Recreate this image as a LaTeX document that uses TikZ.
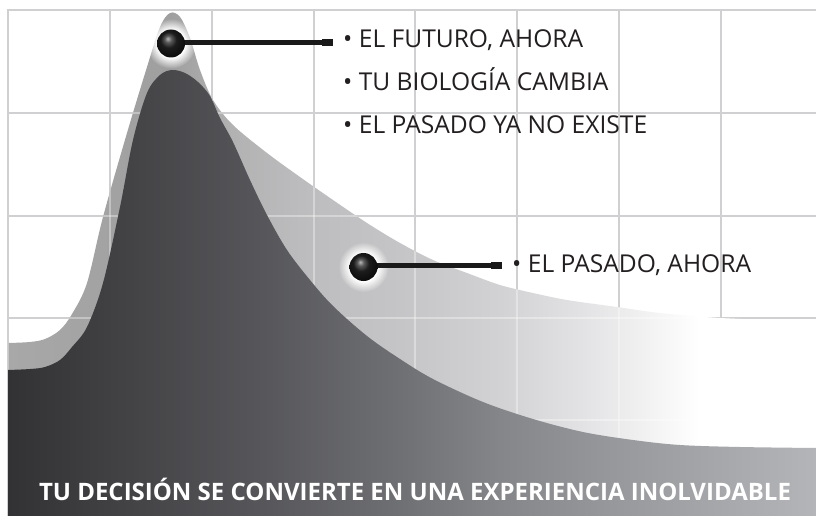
\documentclass[tikz,border=0pt]{standalone}
\usepackage{fontspec}
\setmainfont{Open Sans}
\usetikzlibrary{fadings}
\definecolor{gridc}{HTML}{D0D0D2}
\definecolor{txt}{HTML}{231F20}
\definecolor{stemc}{HTML}{1A1A1A}
% dark front shape colours
\definecolor{dA}{HTML}{323234}
\definecolor{dB}{HTML}{444447}
\definecolor{dC}{HTML}{58585C}
\definecolor{dD}{HTML}{6F7074}
\definecolor{dE}{HTML}{85868A}
\definecolor{dF}{HTML}{95969A}
\definecolor{dG}{HTML}{B4B5B9}
% light back shape colours
\definecolor{lA}{HTML}{A8A8A8}
\definecolor{lB}{HTML}{9F9F9F}
\definecolor{lC}{HTML}{B2B2B3}
\definecolor{lD}{HTML}{BCBCBE}
\definecolor{lE}{HTML}{C5C5C7}
\definecolor{lF}{HTML}{D2D2D4}
\definecolor{lG}{HTML}{E2E2E4}
\definecolor{lH}{HTML}{F0F0F1}
% ball colours
\definecolor{bA}{HTML}{B8B8B8}
\definecolor{bB}{HTML}{5A5A5A}
\definecolor{bC}{HTML}{1C1C1C}
\definecolor{bD}{HTML}{0A0A0A}
\pgfdeclarehorizontalshading{darksh}{100bp}{color(0bp)=(dA); color(25bp)=(dA); color(32.9bp)=(dB); color(41.2bp)=(dC); color(49.3bp)=(dD); color(55.5bp)=(dE); color(61.6bp)=(dF); color(75bp)=(dG); color(100bp)=(dG)}
\pgfdeclarehorizontalshading{lightsh}{100bp}{color(0bp)=(lA); color(25bp)=(lA); color(35bp)=(lB); color(38.9bp)=(lC); color(43.1bp)=(lD); color(49.3bp)=(lE); color(55.5bp)=(lF); color(60.4bp)=(lG); color(64.1bp)=(lH); color(67.8bp)=(white); color(100bp)=(white)}
\pgfdeclareradialshading{glowsh}{\pgfpointorigin}{color(0bp)=(white); color(14bp)=(white); color(25bp)=(black); color(50bp)=(black)}
\pgfdeclarefading{glowfade}{\pgfuseshading{glowsh}}
\pgfdeclareradialshading{glossball}{\pgfpoint{-6bp}{9bp}}{color(0bp)=(bA); color(6bp)=(bB); color(14bp)=(bC); color(30bp)=(bD); color(50bp)=(bD)}
\def\lightpath{plot[smooth,tension=.55] coordinates {(8,343) (30,342) (45,339) (60,330) (72,314) (87,283) (103,217) (127,133) (147,67) (160,27) (170,13) (180,17) (190,38) (200,70) (213,100) (233,125) (267,153) (300,177) (333,200) (367,223) (400,243) (433,260) (467,273) (500,285) (533,293) (567,300) (617,307) (660,313) (720,318) (816,322)} -- (816,516) -- (8,516) -- cycle}
\def\darkpath{plot[smooth,tension=.55] coordinates {(8,370) (30,369) (45,367) (60,360) (72,347) (87,327) (103,283) (120,207) (133,140) (147,93) (160,75) (172,70) (185,73) (198,82) (210,96) (220,118) (233,142) (250,180) (267,215) (287,250) (310,280) (333,306) (367,336) (400,359) (433,379) (483,402) (533,419) (583,432) (633,440) (680,445) (740,447) (816,448)} -- (816,516) -- (8,516) -- cycle}
\tikzset{
  gridline/.style={draw=gridc, line width=2pt},
  gridover/.style={draw=white, opacity=.35, line width=2pt},
  ballst/.style={circle, minimum size=28pt, inner sep=0pt, shading=glossball},
  stemst/.style={draw=stemc, line width=4.5pt},
  stemend/.style={draw=stemc, line width=7.5pt},
  glow/.style={fill=white, path fading=glowfade},
  lbl/.style={anchor=base west, inner sep=0pt, text=txt, font=\fontsize{24.6}{28}\selectfont},
  bottomlbl/.style={anchor=base, inner sep=0pt, text=white, font=\fontsize{24}{28}\selectfont\bfseries}
}
\begin{document}
\begin{tikzpicture}[x=1pt,y=-1pt]
\useasboundingbox (0,0) rectangle (816,516);
\fill[white] (0,0) rectangle (816,516);
% grid
\foreach \gx in {8,110,212,313.5,415,517,619,721} {\draw[gridline] (\gx,10) -- (\gx,516);}
\foreach \gy in {10,113,216,317.5,420} {\draw[gridline] (7,\gy) -- (816,\gy);}
% light back curve
\path[shading=lightsh] \lightpath;
\begin{scope}
\clip \lightpath;
\foreach \gx in {8,110,212,313.5,415,517,619,721} {\draw[gridover] (\gx,10) -- (\gx,516);}
\foreach \gy in {10,113,216,317.5,420} {\draw[gridover] (7,\gy) -- (816,\gy);}
\end{scope}
% dark front curve
\path[shading=darksh] \darkpath;
% markers
\coordinate (b1c) at (171,43.5);
\coordinate (b2c) at (363.5,267);
\coordinate (s1) at (333,42.5);
\coordinate (s1b) at (322,42.5);
\coordinate (s2) at (502,265.5);
\coordinate (s2b) at (491,265.5);
\fill[glow] (b1c) circle (25);
\fill[glow] (b2c) circle (25);
\draw[stemst] (b1c |- s1) -- (s1);
\draw[stemend] (s1b) -- (s1);
\draw[stemst] (b2c |- s2) -- (s2);
\draw[stemend] (s2b) -- (s2);
\node[ballst] (b1) at (b1c) {};
\node[ballst] (b2) at (b2c) {};
% labels
\node[lbl] (t1) at (343,48) {• EL FUTURO, AHORA};
\node[lbl] (t2) at (343,91) {• TU BIOLOGÍA CAMBIA};
\node[lbl] (t3) at (343,133) {• EL PASADO YA NO EXISTE};
\node[lbl] (t4) at (512,272) {• EL PASADO, AHORA};
\node[bottomlbl] (t5) at (415,500) {TU DECISIÓN SE CONVIERTE EN UNA EXPERIENCIA INOLVIDABLE};
\end{tikzpicture}
\end{document}
